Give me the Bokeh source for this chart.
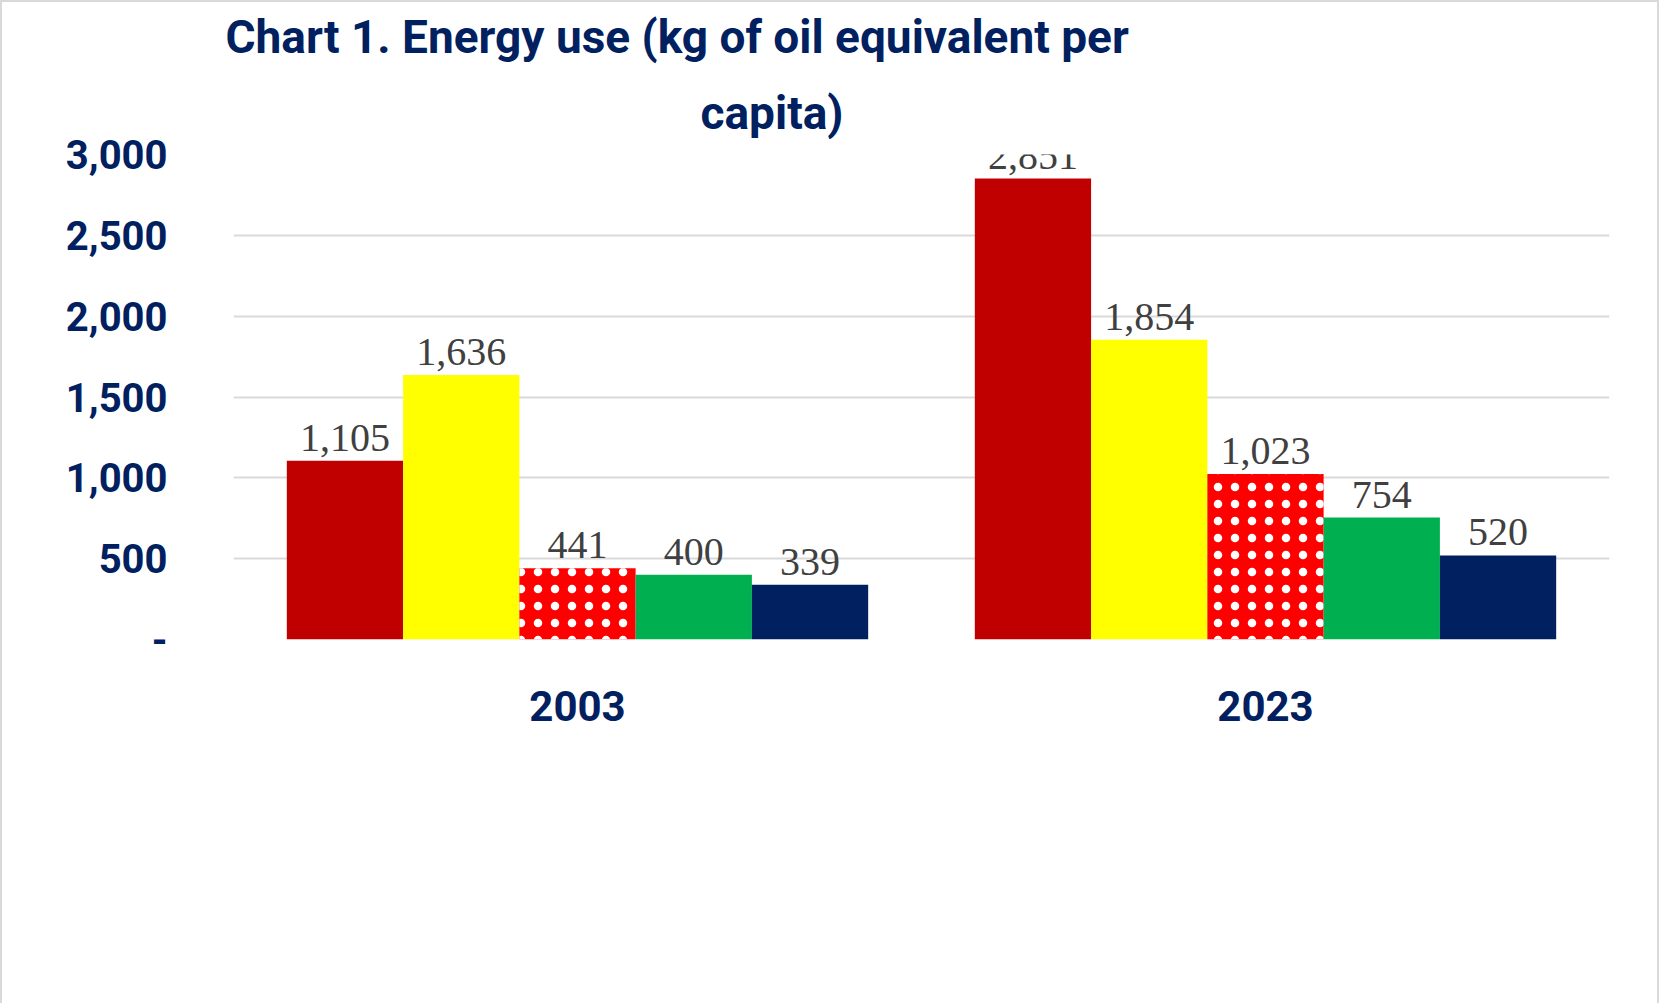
from bokeh.plotting import figure
from bokeh.models import ColumnDataSource, LabelSet, Legend, LegendItem, Title, CustomJSTickFormatter, FixedTicker
from bokeh.transform import dodge
from bokeh.embed import file_html
from bokeh.resources import INLINE

years = ["2003", "2023"]
countries = ["China", "World", "Viet Nam", "India", "Nepal"]
values = {
    "China": [1105, 2851],
    "World": [1636, 1854],
    "Viet Nam": [441, 1023],
    "India": [400, 754],
    "Nepal": [339, 520],
}
colors = ["#C00000", "#FFFF00", "#FF0000", "#00B050", "#002060"]
yticks = [0, 500, 1000, 1500, 2000, 2500, 3000]

FONT = "Roboto"
NAVY = "#002060"

p = figure(x_range=years, y_range=(0, 3000), frame_width=1376, frame_height=485,
           output_backend="svg", toolbar_location=None,
           min_border_left=231, min_border_right=48, min_border_top=45, min_border_bottom=45)
p.styles = {"border": "2px solid #d9d9d9"}
p.outline_line_color = None
p.title.visible = False

t2 = Title(text="capita)", align="left", offset=467, text_font=FONT, text_font_size="46px",
           text_color=NAVY, text_font_style="bold", standoff=30)
t1 = Title(text="Chart 1. Energy use (kg of oil equivalent per", align="left", offset=-8, text_font=FONT,
           text_font_size="46px", text_color=NAVY, text_font_style="bold")
p.add_layout(t2, "above")
p.add_layout(t1, "above")

bw = 0.169
items = []
for i, c in enumerate(countries):
    src = ColumnDataSource(dict(x=years, y=values[c], lab=[f"{v:,}" for v in values[c]]))
    off = (i - 2) * bw
    kw = {}
    if c == "Viet Nam":
        kw = dict(hatch_pattern="dot", hatch_color="white", hatch_scale=17, hatch_weight=4)
    r = p.vbar(x=dodge("x", off, range=p.x_range), top="y", width=bw, source=src,
               fill_color=colors[i], line_color=None, **kw)
    items.append(LegendItem(label=c, renderers=[r]))
    p.add_layout(LabelSet(x=dodge("x", off, range=p.x_range), y="y", text="lab", source=src,
                          text_align="center", y_offset=10, text_font=FONT,
                          text_font_size="40px", text_color="#404040"))

p.yaxis.ticker = FixedTicker(ticks=yticks)
p.yaxis.formatter = CustomJSTickFormatter(code="return tick == 0 ? '-' : tick.toLocaleString('en-US');")
for ax in (p.xaxis, p.yaxis):
    ax.axis_line_color = None
    ax.major_tick_line_color = None
    ax.minor_tick_line_color = None
    ax.major_label_text_font = FONT
    ax.major_label_text_font_style = "bold"
    ax.major_label_text_color = NAVY
p.yaxis.major_label_text_font_size = "40px"
p.yaxis.major_label_standoff = 60
p.xaxis.major_label_text_font_size = "42px"
p.xaxis.major_label_standoff = 45
p.xgrid.grid_line_color = None
p.ygrid.grid_line_color = "#d9d9d9"
p.ygrid.grid_line_width = 2

leg = Legend(items=items, orientation="horizontal", location="center",
             label_text_font=FONT, label_text_font_style="bold", label_text_font_size="42px",
             label_text_color=NAVY, glyph_width=28, glyph_height=28, label_standoff=24,
             spacing=62, border_line_color=None, margin=25, padding=5)
p.add_layout(leg, "below")

open("out.html", "w").write(file_html(p, INLINE))
